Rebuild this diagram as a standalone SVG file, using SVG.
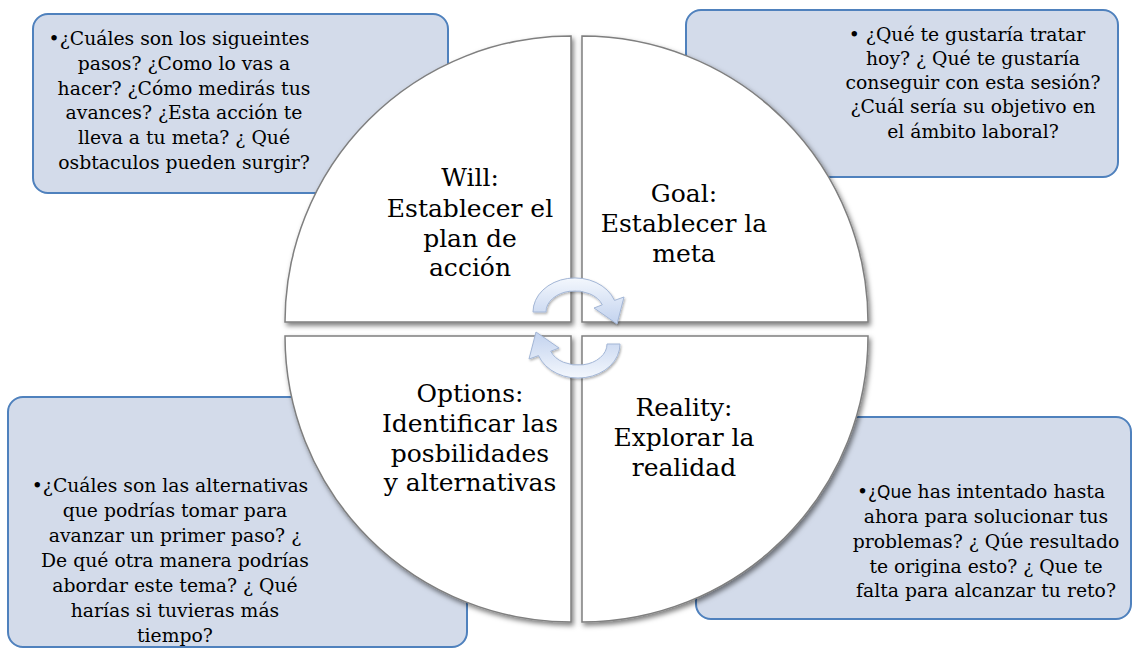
<svg xmlns="http://www.w3.org/2000/svg" width="1133" height="649" viewBox="0 0 1133 649">
<defs>
<style>
.box{fill:#d3dbea;stroke:#4f81bd;stroke-width:2}
.quad{fill:#ffffff;stroke:#7f7f7f;stroke-width:1.5;filter:url(#sh)}
.big{font-family:'DejaVu Serif',serif;font-size:25px;fill:#000000;text-anchor:middle}
.sm{font-family:'DejaVu Serif',serif;font-size:18.8px;fill:#000000;text-anchor:middle}
.sans{font-family:'DejaVu Sans',sans-serif;font-size:17px}
.arr{fill:url(#ag);stroke:#a3b6d6;stroke-width:1}
</style>
<filter id="sh" x="-10%" y="-10%" width="130%" height="130%">
<feDropShadow dx="2" dy="3" stdDeviation="2.5" flood-color="#000000" flood-opacity="0.5"/>
</filter>
<filter id="ash" x="-20%" y="-20%" width="140%" height="140%">
<feDropShadow dx="1" dy="1.5" stdDeviation="1.2" flood-color="#000000" flood-opacity="0.3"/>
</filter>
<linearGradient id="ag" x1="0" y1="0" x2="0" y2="1">
<stop offset="0" stop-color="#f3f7fd"/>
<stop offset="1" stop-color="#c2d2ee"/>
</linearGradient>
</defs>

<g id="box-will">
<rect class="box" x="33" y="14" width="415" height="179" rx="15"/>
<text class="sm" x="179" y="45">•¿Cuáles son los sigueintes</text>
<text class="sm" x="184" y="70">pasos? ¿Como lo vas a</text>
<text class="sm" x="184" y="95">hacer? ¿Cómo medirás tus</text>
<text class="sm" x="184" y="119">avances? ¿Esta acción te</text>
<text class="sm" x="184" y="144">lleva a tu meta? ¿ Qué</text>
<text class="sm" x="184" y="169">osbtaculos pueden surgir?</text>
</g>

<g id="box-goal">
<rect class="box" x="686" y="10" width="432" height="167" rx="15"/>
<text class="sm" x="967" y="41">• ¿Qué te gustaría tratar</text>
<text class="sm" x="973" y="65">hoy? ¿ Qué te gustaría</text>
<text class="sm" x="973" y="89">conseguir con esta sesión?</text>
<text class="sm" x="973" y="113">¿Cuál sería su objetivo en</text>
<text class="sm" x="973" y="138">el ámbito laboral?</text>
</g>

<g id="box-options">
<rect class="box" x="8" y="397" width="459" height="250" rx="15"/>
<text class="sm" x="170" y="492">•¿Cuáles son las alternativas</text>
<text class="sm" x="175" y="517">que podrías tomar para</text>
<text class="sm" x="175" y="542">avanzar un primer paso? ¿</text>
<text class="sm" x="175" y="567">De qué otra manera podrías</text>
<text class="sm" x="175" y="592">abordar este tema? ¿ Qué</text>
<text class="sm" x="175" y="617">harías si tuvieras más</text>
<text class="sm" x="175" y="642">tiempo?</text>
</g>

<g id="box-reality">
<rect class="box" x="696" y="417" width="435" height="202" rx="15"/>
<text class="sm" x="981" y="498">•<tspan class="sans">¿Que</tspan> has intentado hasta</text>
<text class="sm" x="986" y="523">ahora para solucionar tus</text>
<text class="sm" x="986" y="548">problemas? ¿ Qúe resultado</text>
<text class="sm" x="986" y="573">te origina esto? ¿ Que te</text>
<text class="sm" x="986" y="597">falta para alcanzar tu reto?</text>
</g>

<g id="quad-will">
<path class="quad" d="M571 322 L285 322 A286 286 0 0 1 571 36 Z"/>
<text class="big" x="470" y="186">Will:</text>
<text class="big" x="470" y="217">Establecer el</text>
<text class="big" x="470" y="247">plan de</text>
<text class="big" x="470" y="276">acción</text>
</g>

<g id="quad-goal">
<path class="quad" d="M582 322 L582 36 A286 286 0 0 1 868 322 Z"/>
<text class="big" x="684" y="202">Goal:</text>
<text class="big" x="684" y="232">Establecer la</text>
<text class="big" x="684" y="262">meta</text>
</g>

<g id="quad-reality">
<path class="quad" d="M582 336 L868 336 A286 286 0 0 1 582 622 Z"/>
<text class="big" x="684" y="416">Reality:</text>
<text class="big" x="684" y="446">Explorar la</text>
<text class="big" x="684" y="476">realidad</text>
</g>

<g id="quad-options">
<path class="quad" d="M571 336 L571 622 A286 286 0 0 1 285 336 Z"/>
<text class="big" x="470" y="402">Options:</text>
<text class="big" x="470" y="432">Identificar las</text>
<text class="big" x="470" y="462">posbilidades</text>
<text class="big" x="470" y="491">y alternativas</text>
</g>

<g id="connectors" filter="url(#ash)">
<path class="arr" d="M533 312 A42 34 0 0 1 614.5 300.4 L624 297 L617 324 L594 308 L602.3 304.8 A29 21 0 0 0 546 312 Z"/>
<path class="arr" d="M533 312 A42 34 0 0 1 614.5 300.4 L624 297 L617 324 L594 308 L602.3 304.8 A29 21 0 0 0 546 312 Z" transform="rotate(180 576.5 328)"/>
</g>
</svg>
